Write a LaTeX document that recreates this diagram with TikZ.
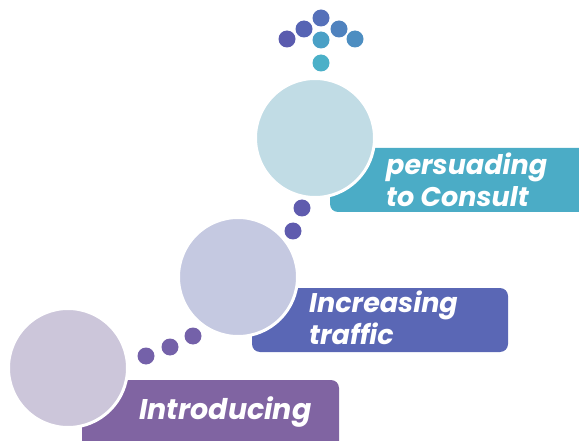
\documentclass[tikz,border=0pt]{standalone}
\usepackage{fontspec}
\setmainfont{Poppins}
\usetikzlibrary{positioning}

\definecolor{introC}{HTML}{8064A2}
\definecolor{trafC}{HTML}{5A67B5}
\definecolor{consC}{HTML}{4BACC6}
\definecolor{introL}{HTML}{CCC6DA}
\definecolor{trafL}{HTML}{C5C9E1}
\definecolor{consL}{HTML}{C1DCE5}
\definecolor{dotA}{HTML}{7461A9}
\definecolor{dotB}{HTML}{5F5BAE}

\begin{document}
\begin{tikzpicture}[x=1pt,y=-1pt,
  ball/.style={circle,draw=white,line width=3pt,minimum size=119pt,inner sep=0pt},
  stepbox/.style={rounded corners=8pt},
  steptext/.style={anchor=base west,text=white,font=\fontsize{27}{32}\selectfont\bfseries\itshape,align=left,inner sep=0pt}]

  \useasboundingbox (0,0) rectangle (579,441);
  \clip (0,0) rectangle (579,441);

  %% bars
  \fill[introC,stepbox] (82,380) rectangle (339,460);
  \fill[trafC,stepbox] (252,288) rectangle (508,352);
  \fill[consC,stepbox] (330,148) rectangle (600,212);

  %% discs, white rim over the bars
  \node[ball,fill=introL] (intro) at (68,368) {};
  \node[ball,fill=trafL] (traf) at (238,277) {};
  \node[ball,fill=consL] (cons) at (315,138) {};

  %% labels (base = last line)
  \node[steptext,font=\fontsize{28.5}{32}\selectfont\bfseries\itshape] (introT) at (139,419) {Introducing};
  \node[steptext] (trafT) at (309,344) {Increasing\\traffic};
  \node[steptext] (consT) at (386,207) {persuading\\to Consult};

  %% dots between discs
  \foreach \x/\y in {146/356, 170/347, 193/336}
    \fill[dotA] (\x,\y) circle (8.5);
  \foreach \x/\y in {293/231, 302/208}
    \fill[dotB] (\x,\y) circle (8.5);

  %% arrow of dots at the top
  \foreach \x/\y/\c in {287/39/5A5BAE, 304/29/5664B4, 321/18/5570B9,
                        339/29/4F82BE, 355/39/4D8EC1, 321/40/4AA0C6, 321/63/4BB0C8}
  {
    \definecolor{tip}{HTML}{\c}
    \fill[tip] (\x,\y) circle (8.5);
  }

\end{tikzpicture}
\end{document}
